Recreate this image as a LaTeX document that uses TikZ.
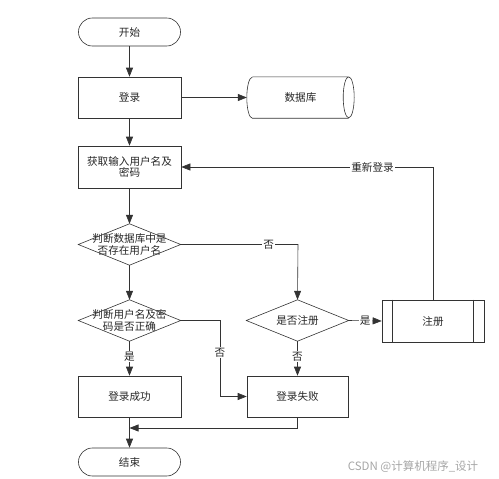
\documentclass[tikz,border=0pt]{standalone}
\usepackage{fontspec}
\setmainfont{Noto Sans CJK SC}
\usetikzlibrary{arrows.meta}
\definecolor{ln}{HTML}{333333}
\begin{document}
\begin{tikzpicture}[x=1pt,y=-1pt,
  every node/.style={font=\fontsize{10.6}{12.5}\selectfont, text=black!85},
  term/.style={draw=ln, line width=0.6pt, rounded corners=13.9pt, minimum width=102pt, minimum height=28pt, inner sep=0pt},
  proc/.style={draw=ln, line width=0.6pt, minimum width=103pt, minimum height=41pt, inner sep=0pt, align=center},
  dia/.style={minimum width=102pt, minimum height=41pt, inner sep=0pt, align=center},
  lbl/.style={fill=white, inner sep=1pt},
  conn/.style={draw=ln, line width=0.6pt},
  arr/.style={conn, -{Triangle[length=9pt,width=7pt]}}]
\useasboundingbox (0,0) rectangle (499,479);

\node[term] (start) at (129.5,32) {开始};
\node[proc] (login) at (129.5,97.5) {登录};
\node[minimum width=107pt, minimum height=41pt, inner sep=0pt] (db) at (300.5,97.5) {数据库};
\node[proc, minimum height=42pt] (input) at (129.5,167) {获取输入用户名及\\[-1pt]密码};
\node[dia] (d1) at (129.5,244.5) {判断数据库中是\\[-1pt]否存在用户名};
\node[dia] (d2) at (297.5,320.5) {是否注册};
\node[dia] (d3) at (129.5,320.5) {判断用户名及密\\[-1pt]码是否正确};
\node[proc, minimum width=102pt, minimum height=42pt] (reg) at (433,321) {注册};
\node[proc] (succ) at (129.5,396.5) {登录成功};
\node[proc, minimum width=101pt] (fail) at (297.5,396.5) {登录失败};
\node[term] (end) at (129.5,462) {结束};
\coordinate (j) at (129.5,428);
\coordinate (k) at (298,244.5);
\coordinate (m) at (220,320.5);

% cylinder
\draw[conn] ([xshift=5.5pt]db.north west) -- ([xshift=-5.5pt]db.north east)
  arc[start angle=90, end angle=-270, x radius=5.5pt, y radius=20.5pt];
\draw[conn] ([xshift=-5.5pt]db.south east) -- ([xshift=5.5pt]db.south west)
  arc[start angle=-90, end angle=-270, x radius=5.5pt, y radius=20.5pt];
% diamonds
\foreach \d in {d1,d2,d3}{
  \draw[conn] (\d.west) -- (\d.north) -- (\d.east) -- (\d.south) -- cycle;}
% predefined process bars
\draw[conn] ([xshift=11pt]reg.north west) -- ([xshift=11pt]reg.south west);
\draw[conn] ([xshift=-11pt]reg.north east) -- ([xshift=-11pt]reg.south east);

% connectors
\draw[arr] (start) -- (login);
\draw[arr] (login) -- (db);
\draw[arr] (login) -- (input);
\draw[arr] (input) -- (d1.north);
\draw[arr] (d1.south) -- (d3.north);
\draw[arr] (d1.east) -- node[lbl, pos=0.75]{否} (k) -- (d2.north);
\draw[arr] (d2.east) -- node[lbl, pos=0.5]{是} (reg.west);
\draw[arr] (reg.north) |- node[lbl, pos=0.62]{重新登录} (input.east);
\draw[arr] (d3.south) -- node[lbl, pos=0.45]{是} (succ.north);
\draw[arr] (d3.east) -- (m) |- node[lbl, pos=0.21]{否} (fail.west);
\draw[arr] (d2.south) -- node[lbl, pos=0.45]{否} (fail.north);
\draw[arr] (fail.south) |- (j);
\draw[arr] (succ.south) -- (end.north);

\node[text=black!35, font=\fontsize{11.5}{13}\selectfont] (wm) at (413,467) {CSDN @计算机程序\_设计};
\end{tikzpicture}
\end{document}
